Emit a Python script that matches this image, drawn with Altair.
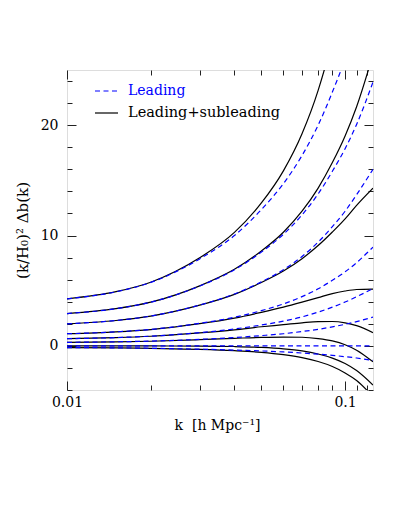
import altair as alt
import pandas as pd

# wavenumbers (h/Mpc) at which the curves were read
k_vals = [0.01, 0.015, 0.02, 0.03, 0.04, 0.05, 0.06, 0.07, 0.08, 0.09, 0.1, 0.11, 0.126]

# "Leading" curves (blue dashed)
lead_1 = [4.26, 4.90, 5.75, 7.88, 10.0, 12.35, 14.7, 17.25, 20.0, 23.0, 26.0, 29.2, 34.8]
lead_2 = [2.93, 3.37, 3.96, 5.42, 6.89, 8.50, 10.11, 11.87, 13.77, 15.82, 17.87, 20.07, 23.9]
lead_3 = [2.0, 2.3, 2.7, 3.7, 4.7, 5.8, 6.9, 8.1, 9.4, 10.8, 12.2, 13.7, 16.0]
lead_4 = [1.1, 1.27, 1.49, 2.04, 2.59, 3.19, 3.80, 4.46, 5.17, 5.94, 6.71, 7.54, 8.95]
lead_5 = [0.65, 0.75, 0.88, 1.20, 1.53, 1.89, 2.24, 2.63, 3.06, 3.51, 3.97, 4.45, 5.2]
lead_6 = [0.32, 0.37, 0.43, 0.59, 0.75, 0.93, 1.10, 1.30, 1.50, 1.72, 1.95, 2.2, 2.6]
lead_7 = [0.0, 0.0, 0.0, 0.0, 0.0, 0.0, 0.0, 0.0, 0.0, 0.0, 0.0, 0.0, 0.0]
lead_8 = [-0.16, -0.18, -0.22, -0.30, -0.38, -0.46, -0.55, -0.65, -0.75, -0.86, -0.98, -1.10, -1.32]

# "Leading+subleading" curves (black solid)
full_1 = [4.26, 4.91, 5.77, 7.98, 10.28, 12.95, 15.86, 19.22, 23.15, 27.76, 32.9, 38.8, 50.0]
full_2 = [2.93, 3.37, 3.96, 5.44, 6.94, 8.60, 10.30, 12.20, 14.30, 16.61, 19.02, 21.67, 26.4]
full_3 = [2.0, 2.3, 2.7, 3.69, 4.67, 5.74, 6.78, 7.90, 9.09, 10.32, 11.51, 12.74, 14.3]
full_4 = [1.1, 1.27, 1.48, 2.01, 2.52, 3.04, 3.51, 3.96, 4.37, 4.74, 4.97, 5.11, 5.15]
full_5 = [0.65, 0.75, 0.87, 1.17, 1.45, 1.73, 1.92, 2.09, 2.20, 2.21, 2.09, 1.83, 1.2]
full_6 = [0.32, 0.37, 0.42, 0.56, 0.68, 0.77, 0.80, 0.78, 0.66, 0.45, 0.10, -0.40, -1.45]
full_7 = [0.0, 0.0, -0.01, -0.02, -0.06, -0.14, -0.27, -0.46, -0.74, -1.11, -1.60, -2.24, -3.55]
full_8 = [-0.16, -0.18, -0.23, -0.32, -0.44, -0.59, -0.80, -1.07, -1.42, -1.87, -2.45, -3.14, -4.6]

lead_curves = [lead_1, lead_2, lead_3, lead_4, lead_5, lead_6, lead_7, lead_8]
full_curves = [full_1, full_2, full_3, full_4, full_5, full_6, full_7, full_8]

x_domain = [0.01, 0.126]
y_domain = [-4, 25]
x_major = [0.01, 0.1]
x_minor = [0.02, 0.03, 0.04, 0.05, 0.06, 0.07, 0.08, 0.09, 0.11, 0.12]
y_major = [0, 10, 20]
y_minor = [-4, -2, 2, 4, 6, 8, 12, 14, 16, 18, 22, 24]

rows = []
for i, vals in enumerate(full_curves):
    for k, v in zip(k_vals, vals):
        rows.append({"k": k, "v": v, "curve": f"full{i}", "kind": "Leading+subleading"})
for i, vals in enumerate(lead_curves):
    for k, v in zip(k_vals, vals):
        rows.append({"k": k, "v": v, "curve": f"lead{i}", "kind": "Leading"})
df = pd.DataFrame(rows)

FONT = "DejaVu Serif"
xs = alt.Scale(type="log", domain=x_domain, nice=False)
ys = alt.Scale(domain=y_domain, nice=False, zero=False)


def tick_axis(orient, values, size):
    return alt.Axis(orient=orient, values=values, labels=False, domain=False, grid=False,
                    ticks=True, tickSize=size, offset=-size, tickColor="#222", tickWidth=1,
                    title=None)


full_layer = alt.Chart(df[df.kind == "Leading+subleading"]).mark_line(
    clip=True, strokeWidth=1.2, color="black", interpolate="monotone"
).encode(
    x=alt.X("k:Q", scale=xs, axis=alt.Axis(
        orient="bottom", values=x_major, format="~g", ticks=False, tickSize=0, domain=False,
        grid=False, labelFlush=False, labelFont=FONT, labelFontSize=14, labelColor="black",
        labelPadding=5,
        title="k\u00a0\u00a0[h\u00a0Mpc\u207b\u00b9]", titleFont=FONT, titleFontSize=14,
        titleFontWeight="normal", titleColor="black", titlePadding=9, titleX=150)),
    y=alt.Y("v:Q", scale=ys, axis=alt.Axis(
        orient="left", values=y_major, ticks=False, tickSize=0, domain=False, grid=False,
        labelFlush=False, labelFont=FONT, labelFontSize=14, labelColor="black", labelPadding=9,
        title="(k/H\u2080)\u00b2 \u0394b(k)", titleFont=FONT, titleFontSize=15,
        titleFontWeight="normal", titleColor="black", titlePadding=10)),
    detail="curve:N",
)

lead_layer = alt.Chart(df[df.kind == "Leading"]).mark_line(
    clip=True, strokeWidth=1.2, color="#0000ff", strokeDash=[5, 3.5], interpolate="monotone"
).encode(
    x=alt.X("k:Q", scale=xs, axis=tick_axis("bottom", x_major, 9)),
    y=alt.Y("v:Q", scale=ys, axis=tick_axis("left", y_major, 9)),
    detail="curve:N",
)

ghost = alt.Chart(df).mark_point(opacity=0, size=1)
t1 = ghost.encode(x=alt.X("k:Q", scale=xs, axis=tick_axis("bottom", x_minor, 5)),
                  y=alt.Y("v:Q", scale=ys, axis=tick_axis("left", y_minor, 5)))
t2 = ghost.encode(x=alt.X("k:Q", scale=xs, axis=tick_axis("top", x_major, 9)),
                  y=alt.Y("v:Q", scale=ys, axis=tick_axis("right", y_major, 9)))
t3 = ghost.encode(x=alt.X("k:Q", scale=xs, axis=tick_axis("top", x_minor, 5)),
                  y=alt.Y("v:Q", scale=ys, axis=tick_axis("right", y_minor, 5)))

# legend (drawn inside the plot, top-left)
legend_names = ["Leading", "Leading+subleading"]
legend_colors = ["#0000ff", "black"]
one = pd.DataFrame({"n": [0]})
leg_line1 = alt.Chart(one).mark_rule(color=legend_colors[0], strokeWidth=1.2, strokeDash=[5, 3.5]).encode(
    x=alt.value(28), x2=alt.value(51), y=alt.value(21))
leg_line2 = alt.Chart(one).mark_rule(color=legend_colors[1], strokeWidth=1.2).encode(
    x=alt.value(28), x2=alt.value(51), y=alt.value(43))
leg_text1 = alt.Chart(one).mark_text(align="left", baseline="middle", font=FONT, fontSize=14,
                                     color=legend_colors[0]).encode(
    x=alt.value(61), y=alt.value(21), text=alt.value(legend_names[0]))
leg_text2 = alt.Chart(one).mark_text(align="left", baseline="middle", font=FONT, fontSize=14.5,
                                     color=legend_colors[1]).encode(
    x=alt.value(61), y=alt.value(43), text=alt.value(legend_names[1]))

chart = alt.layer(
    full_layer, lead_layer, t1, t2, t3, leg_line1, leg_line2, leg_text1, leg_text2
).resolve_axis(x="independent", y="independent").properties(
    width=306, height=320,
    autosize=alt.AutoSizeParams(type="none"),
    padding={"left": 59, "top": 62, "right": 26, "bottom": 100},
).configure_view(stroke="#222", strokeWidth=1).configure(background="white")

chart.save("out.html", embed_options={"renderer": "svg", "actions": False})
